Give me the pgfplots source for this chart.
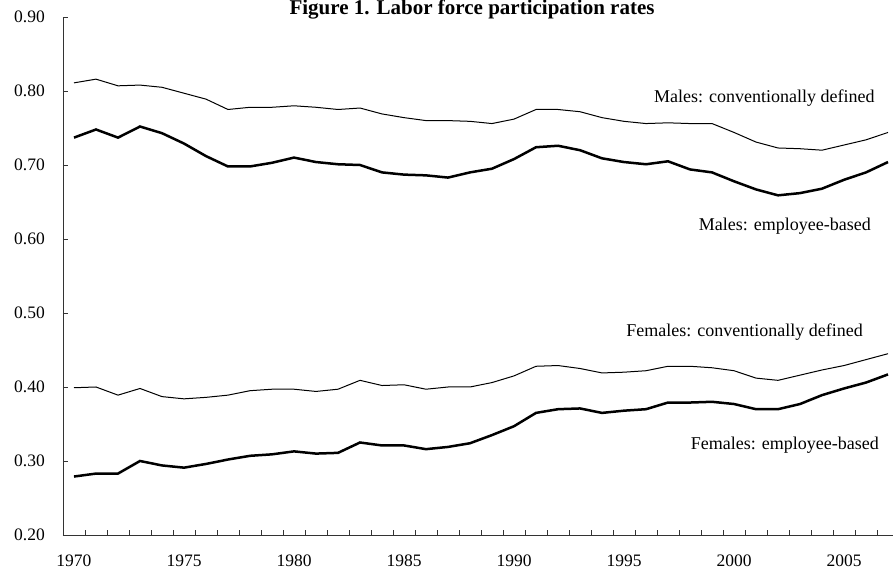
\documentclass[border=0pt]{standalone}
\usepackage{fontspec}
\setmainfont{Liberation Serif}
\usepackage{pgfplots}
\pgfplotsset{compat=1.18}
\usepackage{pgfplotstable}
\pgfplotstableread{
year mconv memp fconv femp
1970 0.811 0.737 0.399 0.279
1971 0.816 0.748 0.400 0.283
1972 0.807 0.737 0.389 0.283
1973 0.808 0.752 0.398 0.300
1974 0.805 0.743 0.387 0.294
1975 0.797 0.729 0.384 0.291
1976 0.789 0.712 0.386 0.296
1977 0.775 0.698 0.389 0.302
1978 0.778 0.698 0.395 0.307
1979 0.778 0.703 0.397 0.309
1980 0.780 0.710 0.397 0.313
1981 0.778 0.704 0.394 0.310
1982 0.775 0.701 0.397 0.311
1983 0.777 0.700 0.409 0.325
1984 0.769 0.690 0.402 0.321
1985 0.764 0.687 0.403 0.321
1986 0.760 0.686 0.397 0.316
1987 0.760 0.683 0.400 0.319
1988 0.759 0.690 0.400 0.324
1989 0.756 0.695 0.406 0.335
1990 0.762 0.708 0.415 0.347
1991 0.775 0.724 0.428 0.365
1992 0.775 0.726 0.429 0.370
1993 0.772 0.720 0.425 0.371
1994 0.764 0.709 0.419 0.365
1995 0.759 0.704 0.420 0.368
1996 0.756 0.701 0.422 0.370
1997 0.757 0.705 0.428 0.379
1998 0.756 0.694 0.428 0.379
1999 0.756 0.690 0.426 0.380
2000 0.744 0.678 0.422 0.377
2001 0.731 0.667 0.412 0.370
2002 0.723 0.659 0.409 0.370
2003 0.722 0.662 0.416 0.377
2004 0.720 0.668 0.423 0.389
2005 0.727 0.680 0.429 0.398
2006 0.734 0.690 0.437 0.406
2007 0.744 0.704 0.445 0.417
}\data
\begin{document}
\begin{tikzpicture}
\begin{axis}[
  name=ax,
  at={(0,0)}, anchor=south west,
  scale only axis,
  width=830pt, height=518pt,
  xmin=1969.5, xmax=2007.227,
  ymin=0.2, ymax=0.9,
  axis lines*=left,
  axis line style={line width=0.9pt, black!80},
  tick align=inside,
  xtick={1970,1975,...,2005},
  minor xtick={1969.5,1970.5,...,2007.5},
  major x tick style={draw=none},
  minor tick length=5pt,
  major tick length=5pt,
  tick style={line width=0.8pt, black!80},
  ytick={0.2,0.3,...,0.9},
  yticklabel style={/pgf/number format/fixed, /pgf/number format/fixed zerofill, /pgf/number format/precision=2},
  /pgf/number format/assume math mode=true,
  ticklabel style={font=\fontsize{17.5}{21}\selectfont},
  xticklabel style={anchor=north, yshift=-16pt},
  yticklabel style={anchor=east, xshift=-14.7pt},
  x tick label style={/pgf/number format/1000 sep={}},
  title={Figure 1. Labor force participation rates},
  title style={at={(0.4928,1)}, anchor=base, yshift=-4pt, inner sep=0pt, font=\bfseries\fontsize{21}{24}\selectfont},
  clip=false,
]
\addplot[black, line width=1pt] table[x=year, y=mconv] {\data};
\addplot[black, line width=2.5pt] table[x=year, y=memp] {\data};
\addplot[black, line width=1pt] table[x=year, y=fconv] {\data};
\addplot[black, line width=2.5pt] table[x=year, y=femp] {\data};
\begin{scope}[every node/.style={font=\fontsize{18}{21}\selectfont, inner sep=0pt}]
\node[anchor=base east] at (axis cs:2006.4,0.785) {Males: conventionally defined};
\node[anchor=base east] at (axis cs:2006.23,0.611) {Males: employee-based};
\node[anchor=base east] at (axis cs:2005.86,0.4676) {Females: conventionally defined};
\node[anchor=base east] at (axis cs:2006.59,0.315) {Females: employee-based};
\end{scope}
\coordinate (bl) at (rel axis cs:0,0);
\coordinate (tr) at (rel axis cs:1,1);
\end{axis}
\pgfresetboundingbox
\path[use as bounding box] ([xshift=-63pt,yshift=-42pt]bl) rectangle ([yshift=17pt]tr);
\end{tikzpicture}
\end{document}
